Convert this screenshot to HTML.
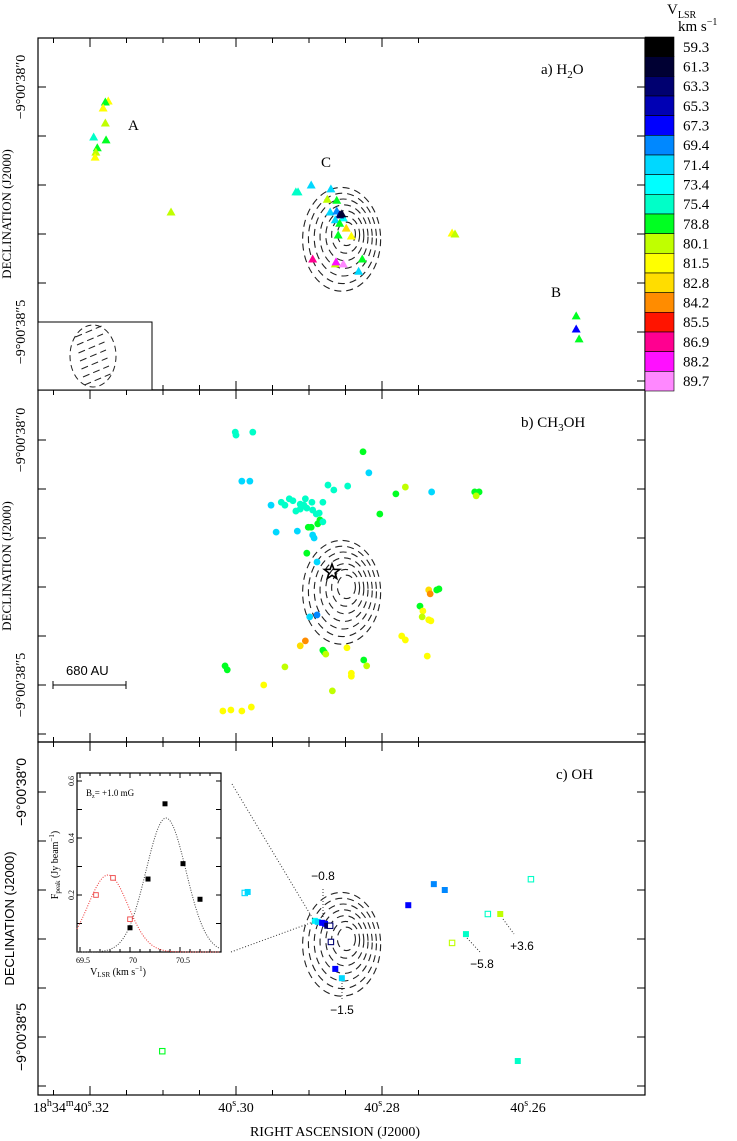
<!DOCTYPE html>
<html><head><meta charset="utf-8"><style>
html,body{margin:0;padding:0;background:#fff}
svg{display:block}
text{font-family:"Liberation Serif",serif;fill:#000}
.sans{font-family:"Liberation Sans",sans-serif}
</style></head><body>
<svg id="fig" width="737" height="1141" viewBox="0 0 737 1141" xmlns="http://www.w3.org/2000/svg"></svg>
<script>
// ---- data ----
const vBins=[59.3,61.3,63.3,65.3,67.3,69.4,71.4,73.4,75.4,78.8,80.1,81.5,82.8,84.2,85.5,86.9,88.2,89.7];
const vColors=["#000000","#000033","#000070","#0000b4","#0000ff","#0088ff","#00d8ff","#00ffff","#00ffc8","#00ff22","#c0ff00","#ffff00","#ffdd00","#ff8c00","#ff1400","#ff0090","#ff10ff","#ff88ff"];
// panel a (H2O): RA offset (ms of time from 40.30s), Dec offset (mas south of 38.0"), velocity
const h2oRA=[17.5,17.9,18.2,17.9,19.5,17.8,19.0,19.2,19.3,8.9,-8.2,-8.5,-10.3,-13.0,-12.5,-13.8,-12.9,-13.8,-14.7,-14.2,-14.5,-13.6,-14.2,-15.1,-14.0,-15.8,-10.5,-13.6,-13.7,-14.7,-17.3,-16.8,-29.6,-30.0,-46.6,-46.6,-47.0];
const h2oDec=[28.6,30.6,42.9,73.5,102,108,124,133,143,255,214,214,200,208,229,231,255,253,267,261,259,271,278,288,302,304,351,361,357,361,351,376,298,300,467,494,514];
const h2oV=[81.5,78.8,81.5,80.1,75.4,78.8,78.8,80.1,81.5,80.1,75.4,75.4,71.4,71.4,80.1,78.8,71.4,69.4,73.4,63.3,61.3,71.4,78.8,82.8,78.8,81.5,86.9,80.1,88.2,89.7,78.8,71.4,81.5,80.1,78.8,67.3,78.8];
// panel b (CH3OH)
const ch3RA=[0.1,0,-2.3,-0.8,-1.9,-17.4,-18.2,-12.6,-13.4,-15.3,-23.2,-21.9,-26.8,-32.7,-33.3,-32.9,-4.8,-6.2,-6.7,-7.3,-7.8,-8.8,-8.2,-8.8,-9.3,-9.5,-9.7,-10.4,-10.5,-11.0,-11.4,-11.9,-19.7,-9.9,-10.3,-11.2,-11.5,-5.5,-8.4,-10.5,-10.7,-11.9,-9.7,-11.1,-26.4,-26.6,-27.5,-27.8,-25.2,-25.6,-25.5,-26.4,-26.7,-10.1,-11.1,-22.7,-23.2,-9.5,-8.8,-11.9,-12.1,-12.3,-15.2,-26.2,-17.5,-17.9,1.5,1.2,-6.7,-15.8,-15.8,-3.8,-13.2,1.8,0.7,-0.8,-2.1];
const ch3Dec=[-16,-10,-16,84,84,24,67,92,102,94,96,110,106,106,106,114,133,127,133,120,124,131,145,141,133,120,139,127,143,151,149,127,151,178,178,171,163,188,186,194,200,167,231,249,306,314,306,304,339,349,361,367,369,361,357,400,408,410,420,429,433,437,424,441,449,461,461,469,463,476,482,500,512,553,551,553,545];
const ch3V=[75.4,75.4,75.4,71.4,71.4,78.8,71.4,75.4,75.4,75.4,80.1,78.8,71.4,78.8,78.8,80.1,71.4,75.4,75.4,75.4,75.4,75.4,75.4,75.4,75.4,75.4,75.4,75.4,75.4,75.4,75.4,75.4,78.8,78.8,78.8,78.8,78.8,71.4,71.4,71.4,71.4,75.4,78.8,71.4,82.8,84.2,78.8,78.8,78.8,81.5,80.1,81.5,81.5,71.4,69.4,81.5,81.5,84.2,82.8,78.8,78.8,80.1,81.5,81.5,78.8,80.1,78.8,78.8,80.1,81.5,81.5,81.5,80.1,81.5,81.5,81.5,81.5];
// panel c (OH)
const ohRA=[-1.2,-1.6,-10.8,-11.2,-11.8,-12.2,-12.5,-12.9,-13.0,-13.6,-14.5,-23.6,-27.1,-28.6,-40.4,-34.5,-36.2,-31.5,-29.6,-38.6,10.1];
const ohDec=[206,204,263,265,267,269,273,273,306,361,380,231,188,200,178,249,249,290,308,549,529];
const ohV=[71.4,71.4,73.4,71.4,67.3,67.3,63.3,63.3,63.3,67.3,71.4,67.3,69.4,69.4,75.4,75.4,80.1,75.4,80.1,75.4,78.8];
const ohFilled=[0,1,1,1,1,1,1,0,0,1,1,1,1,1,0,0,1,1,0,1,0];
// inset spectrum
const specV=[70.0,70.18,70.35,70.53,70.7];
const specF=[0.085,0.256,0.52,0.31,0.185];
const specV2=[69.66,69.83,70.0];
const specF2=[0.2,0.26,0.115];
const fitBlack=[0.47,70.36,0.2];
const fitRed=[0.27,69.78,0.2];

// ---- helpers ----
const NS="http://www.w3.org/2000/svg";
const svg=document.getElementById('fig');
function el(tag,attrs,parent){const e=document.createElementNS(NS,tag);for(const k in attrs)e.setAttribute(k,attrs[k]);(parent||svg).appendChild(e);return e;}
function colorOf(v){let i=vBins.indexOf(v);if(i<0){i=0;for(let k=0;k<vBins.length;k++)if(v>=vBins[k])i=k;}return vColors[i];}
const L=38,R=645;
const xRA=d=>236-d*7.3;
const panels=[{top:38,bot:390,y0:87,name:'h2o'},{top:390,bot:742,y0:440,name:'ch3oh'},{top:742,bot:1095,y0:792,name:'oh'}];
const yDec=(p,d)=>p.y0+d*0.49;

panels.forEach((p,pi)=>{
  const f=el('rect',{x:L,y:p.top,width:R-L,height:p.bot-p.top,fill:'none',stroke:'#000','stroke-width':1.2});
  
  
  for(let d=-100;d<=700;d+=100){const y=yDec(p,d);if(y<=p.top+1||y>=p.bot-1)continue;
    el('line',{x1:L,x2:L+8,y1:y,y2:y,stroke:'#000'});el('line',{x1:R,x2:R-8,y1:y,y2:y,stroke:'#000'});}
  for(let k=-5;k<=8;k++){const x=xRA(k*5);if(x<=L+1||x>=R-1)continue;const len=(k%4===0)?9:5;
    el('line',{x1:x,x2:x,y1:p.bot,y2:p.bot-len,stroke:'#000'});el('line',{x1:x,x2:x,y1:p.top,y2:p.top+len,stroke:'#000'});}
  [[0,"\u22129\u00b000\u203238\u20330"],[500,"\u22129\u00b000\u203238\u20335"]].forEach(([d,t])=>{
    const y=yDec(p,d);const tx=el('text',{x:0,y:0,'font-size':14,'text-anchor':'middle',transform:`translate(${pi==2?26:25},${y}) rotate(-90)`,class:pi==2?'sans':''});tx.textContent=t;
    
    });
  const yt=el('text',{x:0,y:0,'font-size':13,'text-anchor':'middle',transform:`translate(${pi==2?14:11},${(p.top+p.bot)/2}) rotate(-90)`,class:pi==2?'sans':''});
  yt.textContent='DECLINATION (J2000)';
  
  
  const cx=xRA(-15.1), cy=yDec(p,300);
  for(let i=1;i<=7;i++){const rx=4+5*i, ry=5+6.7*i;
    el('ellipse',{cx:cx-0.8*i+1,cy:cy+0.9*i-1,rx:rx,ry:ry,fill:'none',stroke:'#222','stroke-width':1.1,'stroke-dasharray':'7 5'});}
});

const xt=[[20,'40.32'],[0,'40.30'],[-20,'40.28'],[-40,'40.26']];
xt.forEach(([d,t],i)=>{const x=xRA(d);const tx=el('text',{x:i==0?x-19:x,y:1112,'font-size':14,'text-anchor':'middle'});
  const sec=t.slice(0,2)+'<tspan dy="-6" font-size="10">s</tspan><tspan dy="6">.'+t.slice(3)+'</tspan>';
  if(i==0){tx.innerHTML='18<tspan dy="-6" font-size="10">h</tspan><tspan dy="6">34</tspan><tspan dy="-6" font-size="10">m</tspan><tspan dy="6">'+sec+'</tspan>';}
  else{tx.innerHTML=sec;}
  
  });
const xtitle=el('text',{x:335,y:1136,'font-size':14,'text-anchor':'middle'});xtitle.textContent='RIGHT ASCENSION (J2000)';



h2oRA.forEach((r,i)=>{const x=xRA(r),y=yDec(panels[0],h2oDec[i]);
  const t=el('polygon',{points:`${x-4.5},${y+3.5} ${x+4.5},${y+3.5} ${x},${y-4.5}`,fill:colorOf(h2oV[i])});
  
  });
ch3RA.forEach((r,i)=>{const c=el('circle',{cx:xRA(r),cy:yDec(panels[1],ch3Dec[i]),r:3.4,fill:colorOf(ch3V[i])});
  
  });
ohRA.forEach((r,i)=>{const x=xRA(r),y=yDec(panels[2],ohDec[i]);const col=colorOf(ohV[i]);
  const s=el('rect',ohFilled[i]?{x:x-3,y:y-3,width:6,height:6,fill:col}:{x:x-2.7,y:y-2.7,width:5.4,height:5.4,fill:'#fff',stroke:col,'stroke-width':1.1});
  
  });

(function(){const cx=332,cy=572,ro=8,ri=3.3;let pts=[];for(let k=0;k<10;k++){const a=-Math.PI/2+k*Math.PI/5;const r=k%2?ri:ro;pts.push((cx+r*Math.cos(a)).toFixed(1)+','+(cy+r*Math.sin(a)).toFixed(1));}
  const s=el('polygon',{points:pts.join(' '),fill:'none',stroke:'#000','stroke-width':1.6});
  
  })();

function txt(x,y,t,fs,name,cls,anchor){const e=el('text',{x:x,y:y,'font-size':fs,'text-anchor':anchor||'start'});if(cls)e.setAttribute('class',cls);e.innerHTML=t;
  
  return e;}
txt(541,74,'a) H<tspan dy="4" font-size="11">2</tspan><tspan dy="-4">O</tspan>',15,'panel-a-title');
txt(521,427,'b) CH<tspan dy="4" font-size="11">3</tspan><tspan dy="-4">OH</tspan>',15,'panel-b-title');
txt(556,779,'c) OH',15,'panel-c-title');
txt(128,130,'A',15,'group-a-label');txt(321,167,'C',15,'group-c-label');txt(551,297,'B',15,'group-b-label');
el('rect',{x:L,y:322,width:114,height:68,fill:'#fff',stroke:'#000','stroke-width':1});
el('ellipse',{cx:93,cy:356,rx:23,ry:31,fill:'none',stroke:'#222','stroke-dasharray':'6 4'});
for(let k=-3;k<=3;k++){el('line',{x1:80+k*1.5,y1:356+k*8+5,x2:106+k*1.5,y2:356+k*8-6,stroke:'#222','stroke-dasharray':'7 4'});}
el('line',{x1:53,x2:126,y1:685,y2:685,stroke:'#000'});el('line',{x1:53,x2:53,y1:681,y2:689,stroke:'#000'});el('line',{x1:126,x2:126,y1:681,y2:689,stroke:'#000'});
txt(66,675,'680 AU',13,'scale-bar-label','sans');
function dot(x1,y1,x2,y2){el('line',{x1,y1,x2,y2,stroke:'#333','stroke-dasharray':'1 2'});}
dot(232,784,313,919);dot(231,952,313,922);
dot(323,889,323,917);txt(323,880,'\u22120.8',12,'oh-bz-label','sans','middle');
dot(342,983,342,1000);txt(342,1014,'\u22121.5',12,'oh-bz-label','sans','middle');
dot(467,938,480,952);txt(482,968,'\u22125.8',12,'oh-bz-label','sans','middle');
dot(503,919,514,934);txt(522,950,'+3.6',12,'oh-bz-label','sans','middle');

for(let i=0;i<vBins.length;i++){const h=354/18;const y=37+i*h;
  const b=el('rect',{x:645,y:y,width:29,height:h,fill:vColors[i],stroke:'#000','stroke-width':0.6});
  
  
  txt(683,y+h/2+5,vBins[i].toFixed(1),15,'colorbar-label');}
txt(667,14,'V<tspan dy="4" font-size="10">LSR</tspan>',15,'colorbar-title');
txt(678,31,'km s<tspan dy="-6" font-size="10">\u22121</tspan>',15,'colorbar-unit');

const ix=v=>130+(v-70)*100, iy=f=>952-f*285;
const g=el('g',{});
el('rect',{x:77,y:773,width:144,height:179,fill:'#fff',stroke:'#000','stroke-width':1.2},g);
[0.1,0.2,0.3,0.4,0.5,0.6].forEach(f=>{el('line',{x1:77,x2:82,y1:iy(f),y2:iy(f),stroke:'#000'},g);el('line',{x1:221,x2:216,y1:iy(f),y2:iy(f),stroke:'#000'},g);});
[0.2,0.4,0.6].forEach(f=>{const t=el('text',{x:0,y:0,'font-size':8,'text-anchor':'middle',transform:`translate(74,${iy(f)}) rotate(-90)`},g);t.textContent=f;});
[69.5,69.6,69.7,69.8,69.9,70,70.1,70.2,70.3,70.4,70.5,70.6,70.7,70.8,70.9].forEach(v=>{const x=ix(v);if(x<78||x>220)return;const l=(Math.round(v*10)%5==0)?5:3;el('line',{x1:x,x2:x,y1:952,y2:952-l,stroke:'#000'},g);el('line',{x1:x,x2:x,y1:773,y2:773+l,stroke:'#000'},g);});
[[69.5,'69.5'],[70,'70'],[70.5,'70.5']].forEach(([v,t])=>{const e=el('text',{x:ix(v)+3,y:963,'font-size':8,'text-anchor':'middle'},g);e.textContent=t;});
el('text',{x:118,y:975,'font-size':10,'text-anchor':'middle'},g).innerHTML='V<tspan dy="2" font-size="7">LSR</tspan><tspan dy="-2"> (km s</tspan><tspan dy="-4" font-size="7">\u22121</tspan><tspan dy="4">)</tspan>';
el('text',{x:0,y:0,'font-size':10,'text-anchor':'middle',transform:'translate(58,865) rotate(-90)'},g).innerHTML='F<tspan dy="2" font-size="7">peak</tspan><tspan dy="-2"> (Jy beam</tspan><tspan dy="-4" font-size="7">\u22121</tspan><tspan dy="4">)</tspan>';
el('text',{x:86,y:796,'font-size':9},g).innerHTML='B<tspan dy="2" font-size="6">z</tspan><tspan dy="-2">= +1.0 mG</tspan>';
function gauss(p,col){let d='';for(let v=69.47;v<=70.9;v+=0.01){const f=p[0]*Math.exp(-0.5*Math.pow((v-p[1])/p[2],2));d+=(d?'L':'M')+ix(v).toFixed(1)+','+iy(f).toFixed(1);}
  el('path',{d:d,fill:'none',stroke:col,'stroke-width':1,'stroke-dasharray':'1 1.5'},g);}
gauss(fitBlack,'#444');gauss(fitRed,'#e33');
specV.forEach((v,i)=>{const p=el('rect',{x:ix(v)-2.5,y:iy(specF[i])-2.5,width:5,height:5,fill:'#000'},g);
  
  });
specV2.forEach((v,i)=>{const p=el('rect',{x:ix(v)-2.3,y:iy(specF2[i])-2.3,width:4.6,height:4.6,fill:'#fff',stroke:'#e44','stroke-width':0.9},g);
  
  });
</script>
</body></html>
